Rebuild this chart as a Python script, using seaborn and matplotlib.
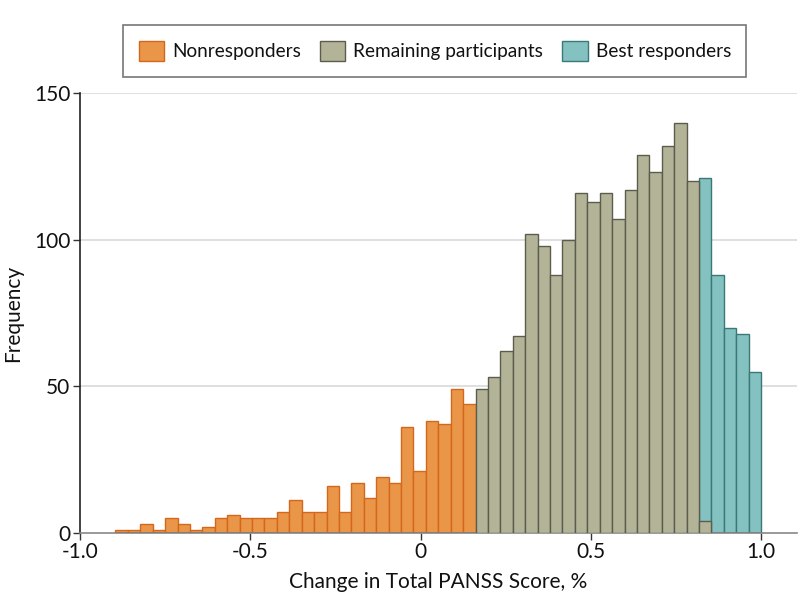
import numpy as np
import matplotlib
matplotlib.use("Agg")
import matplotlib.pyplot as plt
import seaborn as sns
from matplotlib.patches import Patch

# bin layout: 52 equal bins ending at 1.0
bin_lo = -0.896
bin_hi = 1.0
n_bins = 52

# counts per bin for each group
nonresp_counts = [1, 1, 3, 1, 5, 3, 1, 2, 5, 6, 5, 5, 5, 7, 11, 7, 7, 16, 7, 17,
                  12, 19, 17, 36, 21, 38, 37, 49, 44]
remain_counts = [49, 53, 62, 67, 102, 98, 88, 100, 116, 113, 116, 107, 117, 129,
                 123, 132, 140, 120, 4]
best_counts = [121, 88, 70, 68, 55]

labels = ["Nonresponders", "Remaining participants", "Best responders"]
fills = ["#EA9648", "#B3B497", "#83C2C1"]
edges = ["#D5671C", "#5C5C4E", "#3B7878"]

bin_edges = np.linspace(bin_lo, bin_hi, n_bins + 1)
centers = (bin_edges[:-1] + bin_edges[1:]) / 2

n1 = len(nonresp_counts)
n2 = len(remain_counts)
x_non = centers[:n1]
x_rem = centers[n1:n1 + n2]
x_best = centers[n_bins - len(best_counts):]

sns.set_style("white")
plt.rcParams["font.family"] = ["Lato", "DejaVu Sans"]
plt.rcParams["text.color"] = "#111111"
plt.rcParams["axes.labelcolor"] = "#111111"

fig = plt.figure(figsize=(8.01, 6.12), dpi=100)
ax = fig.add_axes([0.0999, 0.1296, 0.895, 0.7179])

for y in [50, 100, 150]:
    ax.axhline(y, color="#d9d9d9", lw=1.2, zorder=0)

hist_kw = dict(bins=n_bins, binrange=(bin_lo, bin_hi), ax=ax, linewidth=1, alpha=1)
sns.histplot(x=x_non, weights=nonresp_counts, color=fills[0], edgecolor=edges[0],
             zorder=2, **hist_kw)
sns.histplot(x=x_best, weights=best_counts, color=fills[2], edgecolor=edges[2],
             zorder=2, **hist_kw)
sns.histplot(x=x_rem, weights=remain_counts, color=fills[1], edgecolor=edges[1],
             zorder=3, **hist_kw)

ax.set_xlim(-1.0, 1.105)
ax.set_ylim(0, 150)
ax.set_xticks([-1.0, -0.5, 0, 0.5, 1.0])
ax.set_xticklabels(["-1.0", "-0.5", "0", "0.5", "1.0"])
ax.set_yticks([0, 50, 100, 150])
ax.tick_params(axis="both", labelsize=15, length=5, width=1, color="#333333",
               labelcolor="#111111", direction="out", bottom=True, left=True, pad=2)

ax.set_xlabel("Change in Total PANSS Score, %", fontsize=15, labelpad=7)
ax.set_ylabel("Frequency", fontsize=15, labelpad=8)

for s in ["top", "right"]:
    ax.spines[s].set_visible(False)
ax.spines["left"].set_color("#222222")
ax.spines["bottom"].set_color("#888888")
ax.spines["left"].set_linewidth(1.2)
ax.spines["bottom"].set_linewidth(1.2)

handles = [Patch(facecolor=f, edgecolor=e) for f, e in zip(fills, edges)]
leg = fig.legend(handles, labels, loc="center", bbox_to_anchor=(0.543, 0.9167),
                 ncol=3, fontsize=13.7, frameon=True, fancybox=False,
                 handlelength=1.33, handleheight=1.3, columnspacing=1.0,
                 handletextpad=0.43, borderpad=0.8)
leg.get_frame().set_edgecolor("#555555")
leg.get_frame().set_linewidth(1.2)

fig.savefig("out.png", dpi=100)
